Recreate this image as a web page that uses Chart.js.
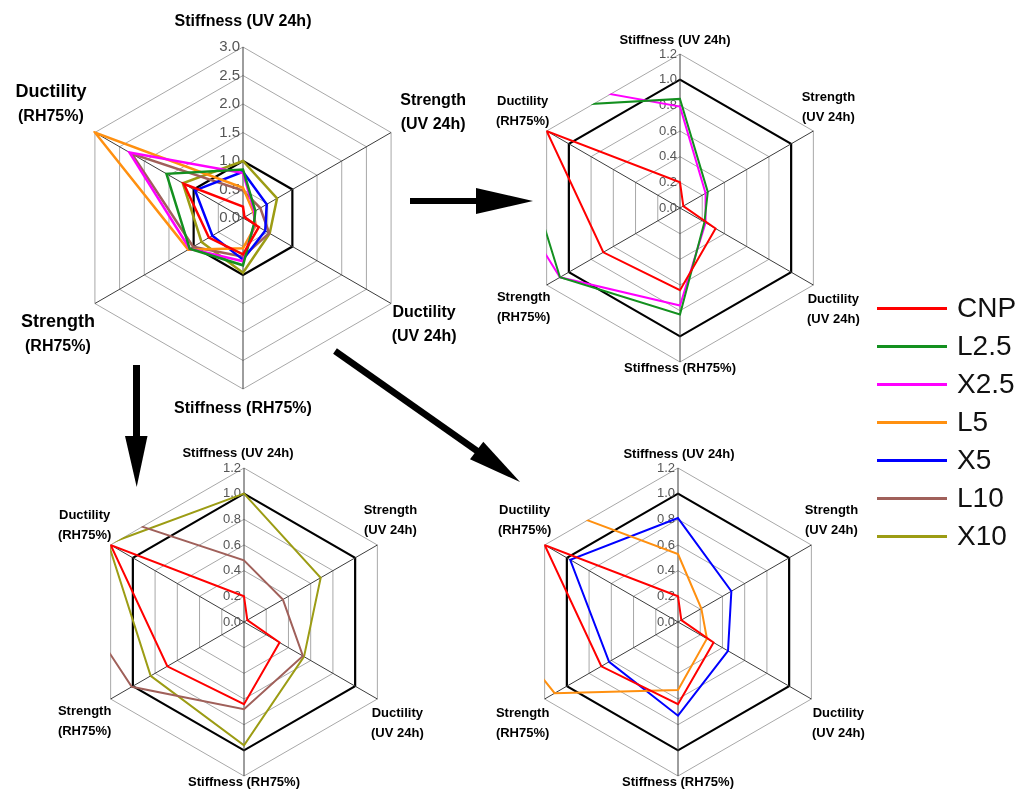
<!DOCTYPE html>
<html>
<head>
<meta charset="utf-8">
<title>Radar comparison of stiffness, strength and ductility</title>
<script src="https://cdn.jsdelivr.net/npm/chart.js@4.4.1/dist/chart.umd.min.js"></script>
<style>
  html, body { margin: 0; padding: 0; background: #fff; }
  #stage { position: relative; width: 1020px; height: 789px; overflow: hidden;
           font-family: "Liberation Sans", Arial, sans-serif; }
  #stage canvas, #stage svg { position: absolute; left: 0; top: 0; }
  .key { position: absolute; left: 877px; width: 200px; height: 38px; }
  .key span.ln { position: absolute; left: 0; top: -1.5px; width: 70px; height: 3px; }
  .key span.tx { position: absolute; left: 80px; top: -17px; font-size: 28px; line-height: 34px; color: #111; }
</style>
</head>
<body>
<div id="stage">
  <canvas id="cMain" width="1020" height="789"></canvas>
  <canvas id="cTopRight" width="1020" height="789"></canvas>
  <canvas id="cBottomLeft" width="1020" height="789"></canvas>
  <canvas id="cBottomRight" width="1020" height="789"></canvas>
  <svg width="1020" height="789" viewBox="0 0 1020 789">
    <!-- arrows from the overview to the three detail plots -->
    <rect x="410" y="198" width="68" height="6" fill="#000"/>
    <polygon points="476,188 533,201 476,214" fill="#000"/>
    <rect x="133" y="365" width="7" height="73" fill="#000"/>
    <polygon points="125,436 147.5,436 136.7,487" fill="#000"/>
    <line x1="335" y1="351" x2="480" y2="453" stroke="#000" stroke-width="6.5"/>
    <polygon points="483.3,441.7 520,482 470,459.3" fill="#000"/>
  </svg>
  <div id="legendBox"></div>
</div>
<script>
// Axis names (clockwise from the top)
const axisNames = [
  ['Stiffness (UV 24h)'],
  ['Strength', '(UV 24h)'],
  ['Ductility', '(UV 24h)'],
  ['Stiffness (RH75%)'],
  ['Strength', '(RH75%)'],
  ['Ductility', '(RH75%)']
];

// Normalised property values, same axis order as above
const seriesNames = ['CNP', 'L2.5', 'X2.5', 'L5', 'X5', 'L10', 'X10'];
const cnp  = [0.20, 0.03, 0.32, 0.64, 0.69, 1.20];
const l2_5 = [0.85, 0.25, 0.22, 0.83, 1.08, 1.55];
const x2_5 = [0.79, 0.23, 0.23, 0.76, 1.08, 2.30];
const l5   = [0.53, 0.21, 0.26, 0.53, 1.11, 3.00];
const x5   = [0.81, 0.48, 0.45, 0.73, 0.62, 0.97];
const l10  = [0.48, 0.35, 0.53, 0.68, 1.01, 2.25];
const x10  = [1.00, 0.69, 0.54, 0.96, 0.84, 1.22];

// Radial scale ranges: overview and detail plots
const overviewRange = { max: 3.0, step: 0.5 };
const detailRange   = { max: 1.2, step: 0.2 };

const seriesValues = [cnp, l2_5, x2_5, l5, x5, l10, x10];
const seriesColors = ['#ff0000', '#13901f', '#ff00ff', '#ff9010', '#0000ff', '#a0605a', '#9c9c14'];

// Draws tick values, axis names, and clips the series to the outer polygon
const radarDecor = {
  id: 'radarDecor',
  beforeDatasetsDraw(chart, args, o) {
    const s = chart.scales.r;
    const ctx = chart.ctx;
    ctx.save();
    ctx.font = o.tickFont;
    ctx.fillStyle = '#555';
    ctx.textAlign = 'right';
    ctx.textBaseline = 'middle';
    s.ticks.forEach(t => {
      const p = s.getPointPositionForValue(0, t.value);
      ctx.fillText(t.value.toFixed(1), p.x - 3, p.y);
    });
    ctx.fillStyle = '#000';
    ctx.textAlign = 'center';
    chart.data.labels.forEach((lines, i) => {
      const v = s.getPointPosition(i, s.drawingArea);
      const off = o.offsets[i];
      const n = lines.length;
      lines.forEach((txt, j) => {
        ctx.font = (o.bigFirst && o.bigFirst.includes(i) && j === 0) ? o.bigFont : o.labelFont;
        ctx.fillText(txt, v.x + off[0], v.y + off[1] + (j - (n - 1) / 2) * o.lineGap);
      });
    });
    ctx.restore();

    ctx.save();
    ctx.beginPath();
    for (let i = 0; i < chart.data.labels.length; i++) {
      const p = s.getPointPosition(i, s.drawingArea + o.clipPad);
      if (i === 0) ctx.moveTo(p.x, p.y); else ctx.lineTo(p.x, p.y);
    }
    ctx.closePath();
    ctx.clip();
  },
  afterDatasetsDraw(chart) {
    chart.ctx.restore();
  }
};

const isOne = c => c.tick && Math.abs(c.tick.value - 1) < 1e-6;

function makeRadar(id, which, range, box, lineWidth, decor) {
  const W = 1020, H = 789;
  const datasets = which.map(k => ({
    label: seriesNames[k],
    data: seriesValues[k],
    borderColor: seriesColors[k],
    backgroundColor: 'rgba(0,0,0,0)',
    borderWidth: lineWidth,
    fill: false,
    pointRadius: 0,
    tension: 0
  }));
  return new Chart(document.getElementById(id), {
    type: 'radar',
    data: { labels: axisNames, datasets },
    plugins: [radarDecor],
    options: {
      responsive: false,
      animation: false,
      devicePixelRatio: 1,
      layout: { padding: {
        left: box.cx - box.r, right: W - box.cx - box.r,
        top: box.cy - box.r, bottom: H - box.cy - box.r } },
      plugins: {
        legend: { display: false },
        tooltip: { enabled: false },
        radarDecor: decor
      },
      scales: {
        r: {
          min: 0, max: range.max,
          ticks: { display: false, stepSize: range.step },
          pointLabels: { display: false },
          grid: {
            color: c => isOne(c) ? '#000' : '#a8a8a8',
            lineWidth: c => isOne(c) ? 2.2 : 1
          },
          angleLines: { color: '#3c3c3c', lineWidth: 1 }
        }
      }
    }
  });
}

const boldFont = px => 'bold ' + px + 'px "Liberation Sans", Arial, sans-serif';
const plainFont = px => px + 'px "Liberation Sans", Arial, sans-serif';

// Overview: all seven series
makeRadar('cMain', [0, 1, 2, 3, 4, 5, 6], overviewRange, { cx: 243, cy: 218, r: 171 }, 2.5, {
  tickFont: plainFont(15), labelFont: boldFont(16), bigFont: boldFont(18), bigFirst: [4, 5],
  lineGap: 24, clipPad: 2,
  offsets: [[0, -25], [42, -20], [33, 21], [0, 20], [-37, 31], [-44, -28]]
});

// Detail: CNP, L2.5, X2.5
makeRadar('cTopRight', [0, 1, 2], detailRange, { cx: 680, cy: 208, r: 154 }, 2, {
  tickFont: plainFont(13), labelFont: boldFont(13), lineGap: 20, clipPad: 0.5,
  offsets: [[-5, -14], [15, -24], [20, 24], [0, 6], [-23, 22], [-24, -20]]
});

// Detail: CNP, L10, X10
makeRadar('cBottomLeft', [0, 5, 6], detailRange, { cx: 244, cy: 622, r: 154 }, 2, {
  tickFont: plainFont(13), labelFont: boldFont(13), lineGap: 20, clipPad: 0.5,
  offsets: [[-6, -15], [13, -25], [20, 24], [0, 6], [-26, 22], [-26, -20]]
});

// Detail: CNP, L5, X5
makeRadar('cBottomRight', [0, 3, 4], detailRange, { cx: 678, cy: 622, r: 154 }, 2, {
  tickFont: plainFont(13), labelFont: boldFont(13), lineGap: 20, clipPad: 0.5,
  offsets: [[1, -14], [20, -25], [27, 24], [0, 6], [-22, 24], [-20, -25]]
});

// Series key
const legendBox = document.getElementById('legendBox');
seriesNames.forEach((name, k) => {
  const row = document.createElement('div');
  row.className = 'key';
  row.style.top = (308 + k * 38) + 'px';
  row.innerHTML = '<span class="ln" style="background:' + seriesColors[k] + '"></span><span class="tx">' + name + '</span>';
  legendBox.appendChild(row);
});
</script>
</body>
</html>
